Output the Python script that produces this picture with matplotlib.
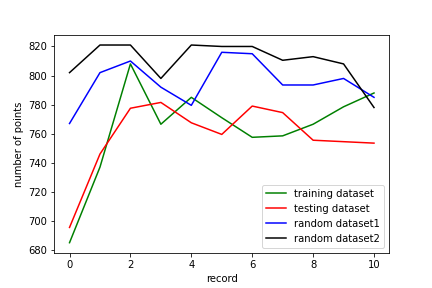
import matplotlib
matplotlib.use("Agg")
import matplotlib.pyplot as plt

record = list(range(11))
training = [685, 737, 808, 766.5, 785, 771, 757.5, 758.5, 766.5, 778.5, 788]
testing = [695.5, 746, 777.5, 781.5, 767.5, 759.5, 779, 774.5, 755.5, 754.5, 753.5]
random1 = [767, 802, 810, 792, 779.5, 816, 815, 793.5, 793.5, 798, 785]
random2 = [802, 821, 821, 798, 821, 820, 820, 810.5, 813, 808, 778]

fig, ax = plt.subplots(figsize=(6, 4), dpi=72)
fig.subplots_adjust(left=0.1257, right=0.901, bottom=0.123, top=0.878)
ax.plot(record, training, color="green", label="training dataset")
ax.plot(record, testing, color="red", label="testing dataset")
ax.plot(record, random1, color="blue", label="random dataset1")
ax.plot(record, random2, color="black", label="random dataset2")
ax.set_xlabel("record")
ax.set_ylabel("number of points")
ax.legend(loc="lower right")
fig.savefig("out.png", dpi=72)
